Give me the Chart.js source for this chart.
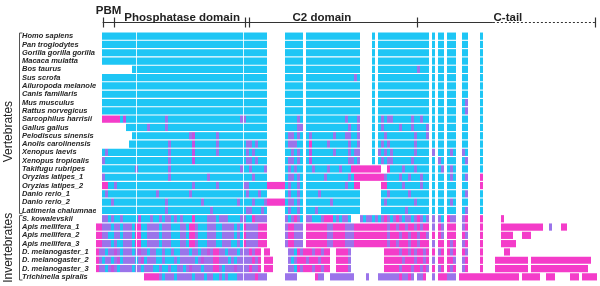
<!DOCTYPE html>
<html>
<head>
<meta charset="utf-8">
<script src="https://cdn.jsdelivr.net/npm/chart.js@4.4.1/dist/chart.umd.min.js"></script>
<style>
  html, body { margin: 0; padding: 0; background: #fff; }
  #wrap { position: relative; width: 600px; height: 286px; }
</style>
</head>
<body>
<div id="wrap"><canvas id="alignmentChart"></canvas></div>
<script>
// one row per sequence, one character per alignment column block
// c = conserved, p / q = similar, m = divergent, . = gap
const species = [
  'Homo sapiens', 'Pan troglodytes', 'Gorilla gorilla gorilla', 'Macaca mulatta', 'Bos taurus',
  'Sus scrofa', 'Ailuropoda melanoleuca', 'Canis familiaris', 'Mus musculus', 'Rattus norvegicus',
  'Sarcophilus harrisii', 'Gallus gallus', 'Pelodiscus sinensis', 'Anolis carolinensis', 'Xenopus laevis',
  'Xenopus tropicalis', 'Takifugu rubripes', 'Oryzias latipes_1', 'Oryzias latipes_2', 'Danio rerio_1',
  'Danio rerio_2', 'Latimeria chalumnae', 'S. kowalevskii', 'Apis mellifera_1', 'Apis mellifera_2',
  'Apis mellifera_3', 'D. melanogaster_1', 'D. melanogaster_2', 'D. melanogaster_3', 'Trichinella spiralis',
];

const alignment = [
  '..cccccccc cccccccccc cccccccccc cccccccccc cccccccccc ccccccc... ...cccccc. cccccccccc cccccccc.. ..c.cccccc cccccccccc c.c.cc.ccc ..cc....c.',
  '..cccccccc cccccccccc cccccccccc cccccccccc cccccccccc ccccccc... ...cccccc. cccccccccc cccccccc.. ..c.cccccc cccccccccc c.c.cc.ccc ..cc....c.',
  '..cccccccc cccccccccc cccccccccc cccccccccc cccccccccc ccccccc... ...cccccc. cccccccccc cccccccc.. ..c.cccccc cccccccccc c.c.cc.ccc ..cc....c.',
  '..cccccccc cccccccccc cccccccccc cccccccccc cccccccccc ccccccc... ...cccccc. cccccccccc cccccccc.. ..c.cccccc cccccccccc c.c.cc.ccc ..cc....c.',
  '.......... ..cccccccc cccccccccc cccccccccc cccccccccc ccccccc... ...cccccc. cccccccccc cccccccc.. ..c.cccccc cccccccpcc c.c.cc.ccc ..cc....c.',
  '..cccccccc cccccccccc cccccccccc cccccccccc cccccccccc ccccccc... ...cccccc. cccccccccc ccccccpc.. ..c.cccccc cccccccccc c.c.cc.ccc ..cc....c.',
  '..cccccccc cccccccccc cccccccccc cccccccccc cccccccccc ccccccc... ...cccccc. cccccccccc cccccccc.. ..c.cccccc cccccccccc c.c.cc.ccc ..cc....c.',
  '..cccccccc cccccccccc cccccccccc cccccccccc cccccccccc ccccccc... ...cccccc. cccccccccc cccccccc.. ..c.cccccc cccccccccc c.c.cc.ccc ..cc....c.',
  '..cccccccc cccccccccc cccccccccc cccccccccc cccccccccc ccccccc... ...cccccc. cccccccccc cccccccc.. ..c.cccccc cccccccccc c.c.cc.ccc ..cp....c.',
  '..cccccccc cccccccccc cccccccccc cccccccccc cccccccccc ccccccc... ...cccccc. cccccccccc cccccccc.. ..c.cccccc cccccccccc c.c.cc.ccc ..cp....c.',
  '..mmmmmmcq cccccccccc cccpcccccc cccccccccc ccccccccpp ccccccc... ...ccccpc. cccccccccc cccpcccp.. ..c.cpcppc cccccpccpc c.c.cc.ccc ..cc....c.',
  '.......... cccccccpcc cccpcccccc cccccccccc cccccccccc ccccccc... ...ccccpp. cccccccccc ccccpccp.. ..c.cpcccc cpcccpcccc p.c.cc.ccc ..cc....c.',
  '.......... ..cccccccc cccccccccc cpqccccccc pccccccccc ccccccc... ...cppcpc. cpcccccccp cccppccp.. ..c.ccpccc ccccccpccc p.c.cc.ccc ..cc....c.',
  '.......... .ccccccccc ccccpccccc ccqccccccc pccccccccc ppcpccc... ...cpppcc. cmcccccpcc ccccpccp.. ..c.cpcpcc ccccccpccc c.c.cc.ccc ..cc....c.',
  '..cpcccccc cccccccccc ccccpccccc ccqccccccc pccccccccc pcpcccc... ...ccpcpc. cqcccccccp ccccpcpp.. ..c.pcpcpc ccccccpccc c.p.cc.cpc ..pc....c.',
  '..pccccccc cccccccccc ccccpccccc ccqccccccc cccccccccc ppcpccc... ...cppcpc. cqcccccccc ccccppcp.. ..c.cpcppc cccccpcccc c.c.pc.ccc ..cp....c.',
  '..cccccccc cccpcccccc ccccpccccc cccccccccc ccccccccpc cpccccp... ...cpcpcc. ccpccccpcc cpcccmmmmm mmmmm..mcc ccpcccpccc c.c.cp.cpc ..cc....c.',
  '..pccccccc cccccccccc ccccpccccc cccccccpcc cccccccccc ccpcccc... ...cppcpc. ccccccpccc ccccpcmmmm mmmmmmpccc cpccpcccpc c.c.cc.cpc ..cp....m.',
  '..mmccpccc cccccccccc cccccccccc ccpccccccc pccccccccp pccccccmmm mmmcpccpc. cccccccccc cccpccmm.. .....mmccc ccpcccccpc c.c.cc.ccc ..cc....m.',
  '..cpcccccc cccccccccc pccccccccc cpcccccccc cccccccccc pcccpcc... ...cpccpc. ccccpccccc cccccccc.. .....ccpcc ccccpccccc c.c.cc.ccc ..cp....c.',
  '..cccpcccc cccccccccc cccpcccccc cccccpcccc cccccccpcc ccpcccpmmm mmmcppcpc. ccccccccpc cccccccc.. .....cpccc ccccccpccc c.c.cc.cpc ..cc....c.',
  '..cccccccc cccccccccc cccpcccccc ccccccccpc cccccccccc ppcccpc... ...cpccpc. cccpcccccc cccccccc.. .....ccccc cccpcccccc c.c.cc.ccc ..cp....c.',
  '..ppcpccpc ccccqcccpc cpcppcpcpc ccmccccppp cpppccccpp ccmpppp... ...pcpmpc. ppcccpmmmc pcppc...pc ppcpcpmpcp mpcppcpmpc p.p.pc.mpp ..pm....m. .....m....',
  'mmpppcppcp ppcmmccppp pcpppcccpp cmmpcccppp ccppppcpcm ppppmmm... ...pmmppp. mmmmmmmppm mmmpppmmmm mmmmmmmpmm pmmpmmpmpm m.p.mp.mmm ..pm....m. .....mmmmm mmmmmmmmm. .p...mm...',
  'mmppccppcp ppcmmccppp pcpppcccpp cmmpcccppp ccppppcpcm ppppmmm... ...pmmppp. mmmmmmmppm mmmpppmmmm mmmmmmmpmm mpmmpmmpmm p.m.mp.mmm ..mp....m. .....mmmm. ..mmm.....',
  'mmpppcpccp ppcmmccppp pcpppcccpp cmmpcccppp ccpppccpcm ppppmmm... ...pmmppp. mmmmmmmppm mmmpppmmmm mmmmmmmpmm pmmmpmmpmm m.p.mm.mpm ..pm....m. .....mmmmm',
  'mppcppqpcp ppcpqppcpp ccpccpccpp pcppcppqpm mppcpppcpp pmpmm.mm.. ....ppcmpm mmpmmpmm.. mmmmp..... ......mmmm mpmmpmpmmp m.m.pm.mpm ..mp....m. ......mm..',
  'mpcppcpqcp pppcpqcppp ccpcccpcpp pppcpqpppm mpppcpcppp ppmpm.mmm. ....pcpmmm pmmmpmmm.. mmmmp..... ......mmmm mmpmmmpmmp m.p.mm.mmp ..pm....m. ...mmmmmmm mmmm.mmmmm mmmmmmmmmm mmmmm',
  'mppcpqpcpp ppcppcpppc cpccpccppc pqpppcpppm mpcpppqppp pmppm.mmm. ....ppcmpm mmpmmpmm.. mmmmp..... ......mmmm mpmmmpmmpm p.m.pm.mpm ..pm....m. ...mmmmmmm mmmm.mmmmm mmmmmmmmmm mmmm',
  '.......... ......mmmm mpcpppcppp ppcpppcppc cpcpcccppp pppmppp... ...pppp... ...mpp..pp pppppp.... p...pppppp pmppmp.ppm ..p.mmmppp .mmmmmmmmm mmmmmmmmmm m.mmmmmm.. mmm.....mm m.mmmmm',
];

const columnCount = 167;
// thin breaks running through every row of the alignment
const seamColumns = [13.3, 49.0];

const groupNames = ['Vertebrates', 'Invertebrates'];
const groupFirst = [0, 22];
const groupLast = [21, 29];
const groupLabelAt = [11.5, 25.5];

const domainNames = ['PBM', 'Phosphatase domain', 'C2 domain', 'C-tail'];
const domainStart = [2.2, 6.1, 51.1, 106.9];
const domainEnd = [6.1, 49.7, 106.9, 166.3];
const domainLabelAt = [4.2, 28.7, 75.3, 137.3];
const dottedFrom = 132.3;

const palette = { c: '#1ec6f5', p: '#9a74ea', q: '#c452de', m: '#f43cc9' };

const runs = alignment.map((text) => {
    const row = text.replace(/ /g, '');
    const list = [];
    let i = 0;
    while (i < row.length) {
        const ch = row[i];
        let j = i;
        while (j < row.length && row[j] === ch) j++;
        if (ch !== '.') list.push({ from: i, to: j, kind: ch });
        i = j;
    }
    return list;
});

const maxRuns = Math.max(...runs.map((r) => r.length));
const datasets = [];
for (let k = 0; k < maxRuns; k++) {
    datasets.push({
        data: runs.map((r) => (r[k] ? [r[k].from, r[k].to] : null)),
        backgroundColor: runs.map((r) => (r[k] ? palette[r[k].kind] : 'transparent')),
        grouped: false,
        barPercentage: 0.87,
        categoryPercentage: 1,
        borderWidth: 0,
    });
}

const annotations = {
    id: 'annotations',
    afterDatasetsDraw(chart) {
        const { ctx, chartArea, scales: { x } } = chart;
        ctx.save();
        ctx.strokeStyle = 'rgba(255,255,255,0.85)';
        ctx.lineWidth = 1;
        seamColumns.forEach((v) => {
            const sx = Math.round(x.getPixelForValue(v)) + 0.5;
            ctx.beginPath();
            ctx.moveTo(sx, chartArea.top);
            ctx.lineTo(sx, chartArea.bottom);
            ctx.stroke();
        });
        ctx.restore();
    },
    afterDraw(chart) {
        const { ctx, scales: { x, y } } = chart;
        const px = (v) => x.getPixelForValue(v);
        const lineY = 22.5;
        ctx.save();
        ctx.strokeStyle = '#333';
        ctx.fillStyle = '#222';
        ctx.lineWidth = 1.2;

        // domain bar across the top
        ctx.beginPath();
        ctx.moveTo(px(domainStart[0]), lineY);
        ctx.lineTo(px(dottedFrom), lineY);
        ctx.stroke();
        ctx.setLineDash([2, 2]);
        ctx.beginPath();
        ctx.moveTo(px(dottedFrom), lineY);
        ctx.lineTo(px(domainEnd[domainEnd.length - 1]), lineY);
        ctx.stroke();
        ctx.setLineDash([]);

        const marks = new Set([...domainStart, ...domainEnd]);
        marks.forEach((v) => {
            ctx.beginPath();
            ctx.moveTo(Math.round(px(v)) + 0.5, lineY - 5);
            ctx.lineTo(Math.round(px(v)) + 0.5, lineY + 5);
            ctx.stroke();
        });

        ctx.font = 'bold 11.5px "Liberation Sans", Arial, sans-serif';
        ctx.textAlign = 'center';
        ctx.textBaseline = 'alphabetic';
        domainNames.forEach((name, i) => {
            const w = ctx.measureText(name).width;
            const span = px(domainEnd[i]) - px(domainStart[i]);
            ctx.fillText(name, px(domainLabelAt[i]), w > span ? 13.5 : 20.5);
        });

        // group brackets on the left
        const half = (y.getPixelForValue(1) - y.getPixelForValue(0)) / 2;
        ctx.lineWidth = 1;
        ctx.strokeStyle = '#555';
        ctx.font = '12px "Liberation Sans", Arial, sans-serif';
        groupNames.forEach((name, i) => {
            const top = y.getPixelForValue(groupFirst[i]) - half + 1;
            const bottom = y.getPixelForValue(groupLast[i]) + half - 1;
            ctx.beginPath();
            ctx.moveTo(22.5, top);
            ctx.lineTo(19.5, top);
            ctx.lineTo(19.5, bottom);
            ctx.lineTo(22.5, bottom);
            ctx.stroke();
            ctx.save();
            ctx.translate(12, y.getPixelForValue(groupLabelAt[i]));
            ctx.rotate(-Math.PI / 2);
            ctx.textAlign = 'center';
            ctx.fillText(name, 0, 0);
            ctx.restore();
        });
        ctx.restore();
    },
};

new Chart(document.getElementById('alignmentChart'), {
    type: 'bar',
    data: { labels: species, datasets },
    options: {
        indexAxis: 'y',
        responsive: true,
        maintainAspectRatio: false,
        animation: false,
        events: [],
        layout: { padding: { left: 22, right: 3, top: 32, bottom: 5 } },
        plugins: { legend: { display: false }, tooltip: { enabled: false } },
        scales: {
            x: { type: 'linear', min: 0, max: columnCount, display: false },
            y: {
                grid: { display: false, drawTicks: false },
                border: { display: false },
                ticks: {
                    autoSkip: false,
                    crossAlign: 'far',
                    padding: 0,
                    color: '#262626',
                    font: { family: '"Liberation Sans Narrow", "Liberation Sans", sans-serif', size: 7.5, style: 'italic', weight: 'bold' },
                },
                afterFit: (axis) => { axis.width = 74; },
            },
        },
    },
    plugins: [annotations],
});
</script>
</body>
</html>
